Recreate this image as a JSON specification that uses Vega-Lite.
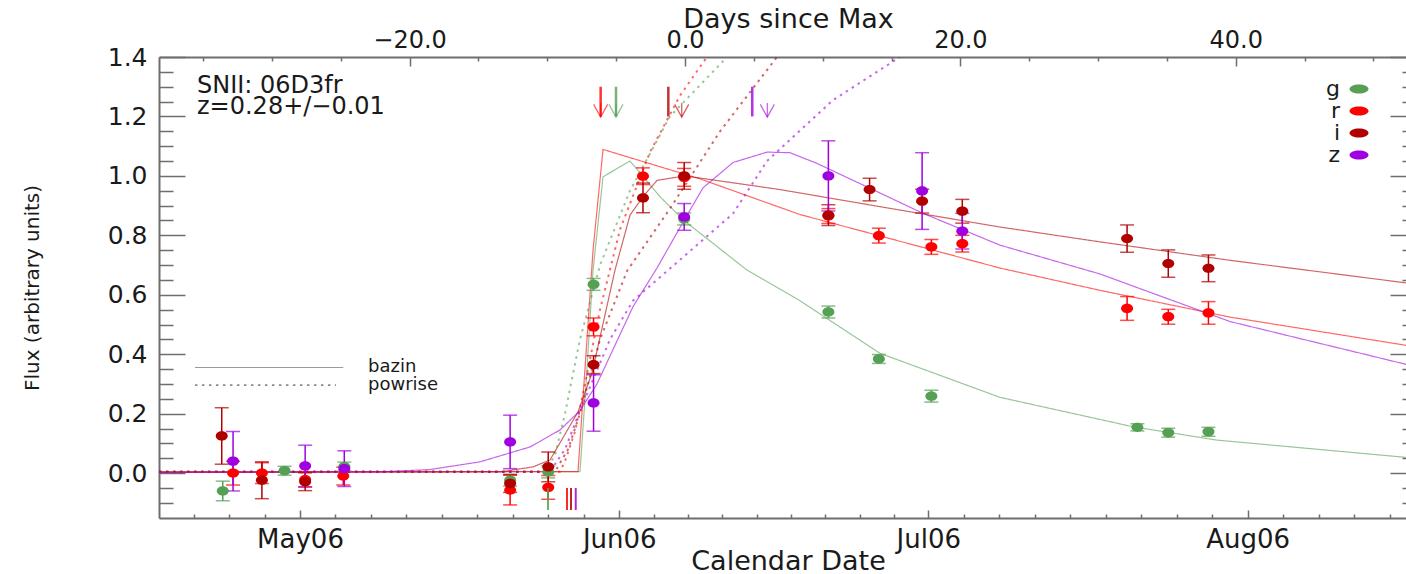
{
  "$schema": "https://vega.github.io/schema/vega-lite/v6.json",
  "width": 1247,
  "height": 461,
  "autosize": {"type": "none"},
  "padding": {"left": 159, "top": 57, "right": 0, "bottom": 56},
  "background": "white",
  "title": {
    "text": ["SNII: 06D3fr", "z=0.28+/\u22120.01"],
    "anchor": "start",
    "frame": "group",
    "orient": "top",
    "offset": 0,
    "dx": 38,
    "dy": 114,
    "font": "DejaVu Sans",
    "fontSize": 24,
    "fontWeight": "normal",
    "lineHeight": 21.5,
    "color": "#1a1a1a"
  },
  "datasets": {
    "obs": [
      {"band": "g", "mjd": 53848.5, "flux": -0.06, "err": 0.033},
      {"band": "g", "mjd": 53854.5, "flux": 0.008, "err": 0.015},
      {"band": "g", "mjd": 53860.3, "flux": 0.022, "err": 0.015},
      {"band": "g", "mjd": 53876.4, "flux": -0.024, "err": 0.02},
      {"band": "g", "mjd": 53880.1, "flux": 0.004, "err": 0.02},
      {"band": "g", "mjd": 53884.5, "flux": 0.635, "err": 0.02},
      {"band": "g", "mjd": 53893.3, "flux": 0.855, "err": 0.02},
      {"band": "g", "mjd": 53907.3, "flux": 0.542, "err": 0.02},
      {"band": "g", "mjd": 53912.2, "flux": 0.384, "err": 0.015},
      {"band": "g", "mjd": 53917.3, "flux": 0.259, "err": 0.02},
      {"band": "g", "mjd": 53937.3, "flux": 0.154, "err": 0.012},
      {"band": "g", "mjd": 53940.3, "flux": 0.136, "err": 0.015},
      {"band": "g", "mjd": 53944.2, "flux": 0.139, "err": 0.015},
      {"band": "r", "mjd": 53849.5, "flux": 0.0, "err": 0.04},
      {"band": "r", "mjd": 53852.3, "flux": 0.0, "err": 0.035},
      {"band": "r", "mjd": 53856.5, "flux": -0.022, "err": 0.025},
      {"band": "r", "mjd": 53860.2, "flux": -0.01, "err": 0.03},
      {"band": "r", "mjd": 53876.4, "flux": -0.057, "err": 0.05},
      {"band": "r", "mjd": 53880.1, "flux": -0.048, "err": 0.04},
      {"band": "r", "mjd": 53884.5, "flux": 0.492, "err": 0.03},
      {"band": "r", "mjd": 53889.3, "flux": 0.999, "err": 0.028},
      {"band": "r", "mjd": 53893.3, "flux": 0.995, "err": 0.03},
      {"band": "r", "mjd": 53907.3, "flux": 0.865, "err": 0.025},
      {"band": "r", "mjd": 53912.2, "flux": 0.799, "err": 0.025},
      {"band": "r", "mjd": 53917.3, "flux": 0.761, "err": 0.025},
      {"band": "r", "mjd": 53920.3, "flux": 0.772, "err": 0.028},
      {"band": "r", "mjd": 53936.3, "flux": 0.554, "err": 0.04},
      {"band": "r", "mjd": 53940.3, "flux": 0.526, "err": 0.025},
      {"band": "r", "mjd": 53944.2, "flux": 0.539, "err": 0.038},
      {"band": "i", "mjd": 53848.4, "flux": 0.125, "err": 0.095},
      {"band": "i", "mjd": 53852.3, "flux": -0.024, "err": 0.062},
      {"band": "i", "mjd": 53856.5, "flux": -0.029, "err": 0.03},
      {"band": "i", "mjd": 53876.4, "flux": -0.035, "err": 0.03},
      {"band": "i", "mjd": 53880.1, "flux": 0.021, "err": 0.05},
      {"band": "i", "mjd": 53884.5, "flux": 0.365, "err": 0.03},
      {"band": "i", "mjd": 53889.3, "flux": 0.926, "err": 0.05},
      {"band": "i", "mjd": 53893.3, "flux": 1.0, "err": 0.045},
      {"band": "i", "mjd": 53907.3, "flux": 0.868, "err": 0.035},
      {"band": "i", "mjd": 53911.3, "flux": 0.954, "err": 0.038},
      {"band": "i", "mjd": 53916.4, "flux": 0.915, "err": 0.04},
      {"band": "i", "mjd": 53920.3, "flux": 0.881, "err": 0.04},
      {"band": "i", "mjd": 53936.3, "flux": 0.789, "err": 0.046},
      {"band": "i", "mjd": 53940.3, "flux": 0.705, "err": 0.046},
      {"band": "i", "mjd": 53944.2, "flux": 0.689, "err": 0.045},
      {"band": "z", "mjd": 53849.5, "flux": 0.04, "err": 0.1},
      {"band": "z", "mjd": 53856.5, "flux": 0.024, "err": 0.07},
      {"band": "z", "mjd": 53860.3, "flux": 0.015, "err": 0.06},
      {"band": "z", "mjd": 53876.4, "flux": 0.105, "err": 0.09},
      {"band": "z", "mjd": 53884.5, "flux": 0.236, "err": 0.095},
      {"band": "z", "mjd": 53893.3, "flux": 0.862, "err": 0.045},
      {"band": "z", "mjd": 53907.3, "flux": 1.0, "err": 0.118},
      {"band": "z", "mjd": 53916.4, "flux": 0.949, "err": 0.129},
      {"band": "z", "mjd": 53920.3, "flux": 0.814, "err": 0.06}
    ],
    "fits": [
      {"band": "g", "model": "bazin", "mjd": 53842.31, "flux": 0.005},
      {"band": "g", "model": "bazin", "mjd": 53883.18, "flux": 0.005},
      {"band": "g", "model": "bazin", "mjd": 53883.77, "flux": 0.3},
      {"band": "g", "model": "bazin", "mjd": 53884.45, "flux": 0.683},
      {"band": "g", "model": "bazin", "mjd": 53885.42, "flux": 0.997},
      {"band": "g", "model": "bazin", "mjd": 53888.04, "flux": 1.05},
      {"band": "g", "model": "bazin", "mjd": 53890.95, "flux": 0.93},
      {"band": "g", "model": "bazin", "mjd": 53893.28, "flux": 0.85},
      {"band": "g", "model": "bazin", "mjd": 53899.4, "flux": 0.683},
      {"band": "g", "model": "bazin", "mjd": 53904.54, "flux": 0.58},
      {"band": "g", "model": "bazin", "mjd": 53912.31, "flux": 0.403},
      {"band": "g", "model": "bazin", "mjd": 53923.96, "flux": 0.255},
      {"band": "g", "model": "bazin", "mjd": 53936.87, "flux": 0.156},
      {"band": "g", "model": "bazin", "mjd": 53945.03, "flux": 0.111},
      {"band": "g", "model": "bazin", "mjd": 53963.38, "flux": 0.053},
      {"band": "r", "model": "bazin", "mjd": 53842.31, "flux": 0.005},
      {"band": "r", "model": "bazin", "mjd": 53882.99, "flux": 0.005},
      {"band": "r", "model": "bazin", "mjd": 53884.45, "flux": 0.75},
      {"band": "r", "model": "bazin", "mjd": 53885.42, "flux": 1.089},
      {"band": "r", "model": "bazin", "mjd": 53894.83, "flux": 0.99},
      {"band": "r", "model": "bazin", "mjd": 53904.54, "flux": 0.87},
      {"band": "r", "model": "bazin", "mjd": 53914.25, "flux": 0.78},
      {"band": "r", "model": "bazin", "mjd": 53923.96, "flux": 0.69},
      {"band": "r", "model": "bazin", "mjd": 53933.67, "flux": 0.615},
      {"band": "r", "model": "bazin", "mjd": 53946.29, "flux": 0.525},
      {"band": "r", "model": "bazin", "mjd": 53963.38, "flux": 0.43},
      {"band": "i", "model": "bazin", "mjd": 53842.31, "flux": 0.002},
      {"band": "i", "model": "bazin", "mjd": 53875.42, "flux": 0.004},
      {"band": "i", "model": "bazin", "mjd": 53878.62, "flux": 0.021},
      {"band": "i", "model": "bazin", "mjd": 53880.27, "flux": 0.044},
      {"band": "i", "model": "bazin", "mjd": 53882.99, "flux": 0.206},
      {"band": "i", "model": "bazin", "mjd": 53884.35, "flux": 0.336},
      {"band": "i", "model": "bazin", "mjd": 53886.58, "flux": 0.683},
      {"band": "i", "model": "bazin", "mjd": 53888.04, "flux": 0.868},
      {"band": "i", "model": "bazin", "mjd": 53889.3, "flux": 0.93},
      {"band": "i", "model": "bazin", "mjd": 53890.66, "flux": 0.985},
      {"band": "i", "model": "bazin", "mjd": 53893.38, "flux": 1.0},
      {"band": "i", "model": "bazin", "mjd": 53902.6, "flux": 0.954},
      {"band": "i", "model": "bazin", "mjd": 53914.25, "flux": 0.885},
      {"band": "i", "model": "bazin", "mjd": 53923.96, "flux": 0.828},
      {"band": "i", "model": "bazin", "mjd": 53933.67, "flux": 0.778},
      {"band": "i", "model": "bazin", "mjd": 53946.29, "flux": 0.716},
      {"band": "i", "model": "bazin", "mjd": 53963.38, "flux": 0.64},
      {"band": "z", "model": "bazin", "mjd": 53842.31, "flux": 0.002},
      {"band": "z", "model": "bazin", "mjd": 53863.77, "flux": 0.004},
      {"band": "z", "model": "bazin", "mjd": 53868.62, "flux": 0.012},
      {"band": "z", "model": "bazin", "mjd": 53873.48, "flux": 0.038},
      {"band": "z", "model": "bazin", "mjd": 53878.33, "flux": 0.088},
      {"band": "z", "model": "bazin", "mjd": 53881.24, "flux": 0.145},
      {"band": "z", "model": "bazin", "mjd": 53883.18, "flux": 0.21},
      {"band": "z", "model": "bazin", "mjd": 53884.83, "flux": 0.3},
      {"band": "z", "model": "bazin", "mjd": 53888.33, "flux": 0.56},
      {"band": "z", "model": "bazin", "mjd": 53890.66, "flux": 0.69},
      {"band": "z", "model": "bazin", "mjd": 53893.28, "flux": 0.85},
      {"band": "z", "model": "bazin", "mjd": 53895.13, "flux": 0.96},
      {"band": "z", "model": "bazin", "mjd": 53898.04, "flux": 1.045},
      {"band": "z", "model": "bazin", "mjd": 53901.34, "flux": 1.08},
      {"band": "z", "model": "bazin", "mjd": 53903.57, "flux": 1.078},
      {"band": "z", "model": "bazin", "mjd": 53906.19, "flux": 1.042},
      {"band": "z", "model": "bazin", "mjd": 53911.05, "flux": 0.963},
      {"band": "z", "model": "bazin", "mjd": 53916.49, "flux": 0.874},
      {"band": "z", "model": "bazin", "mjd": 53923.96, "flux": 0.767},
      {"band": "z", "model": "bazin", "mjd": 53933.67, "flux": 0.67},
      {"band": "z", "model": "bazin", "mjd": 53946.29, "flux": 0.51},
      {"band": "z", "model": "bazin", "mjd": 53963.38, "flux": 0.366},
      {"band": "g", "model": "powrise", "mjd": 53842.31, "flux": 0.005},
      {"band": "g", "model": "powrise", "mjd": 53879.79, "flux": 0.005},
      {"band": "g", "model": "powrise", "mjd": 53880.76, "flux": 0.06},
      {"band": "g", "model": "powrise", "mjd": 53881.73, "flux": 0.2},
      {"band": "g", "model": "powrise", "mjd": 53883.18, "flux": 0.45},
      {"band": "g", "model": "powrise", "mjd": 53885.13, "flux": 0.7},
      {"band": "g", "model": "powrise", "mjd": 53888.04, "flux": 0.95},
      {"band": "g", "model": "powrise", "mjd": 53891.92, "flux": 1.2},
      {"band": "g", "model": "powrise", "mjd": 53897.46, "flux": 1.4},
      {"band": "r", "model": "powrise", "mjd": 53842.31, "flux": 0.005},
      {"band": "r", "model": "powrise", "mjd": 53881.24, "flux": 0.005},
      {"band": "r", "model": "powrise", "mjd": 53881.73, "flux": 0.04},
      {"band": "r", "model": "powrise", "mjd": 53882.7, "flux": 0.14},
      {"band": "r", "model": "powrise", "mjd": 53883.67, "flux": 0.3},
      {"band": "r", "model": "powrise", "mjd": 53885.13, "flux": 0.55},
      {"band": "r", "model": "powrise", "mjd": 53887.07, "flux": 0.82},
      {"band": "r", "model": "powrise", "mjd": 53889.98, "flux": 1.08},
      {"band": "r", "model": "powrise", "mjd": 53892.89, "flux": 1.27},
      {"band": "r", "model": "powrise", "mjd": 53895.51, "flux": 1.4},
      {"band": "i", "model": "powrise", "mjd": 53842.31, "flux": 0.005},
      {"band": "i", "model": "powrise", "mjd": 53880.76, "flux": 0.005},
      {"band": "i", "model": "powrise", "mjd": 53882.02, "flux": 0.08},
      {"band": "i", "model": "powrise", "mjd": 53883.18, "flux": 0.2},
      {"band": "i", "model": "powrise", "mjd": 53885.13, "flux": 0.45},
      {"band": "i", "model": "powrise", "mjd": 53887.75, "flux": 0.68},
      {"band": "i", "model": "powrise", "mjd": 53891.92, "flux": 0.89},
      {"band": "i", "model": "powrise", "mjd": 53896.78, "flux": 1.15},
      {"band": "i", "model": "powrise", "mjd": 53902.31, "flux": 1.4},
      {"band": "z", "model": "powrise", "mjd": 53842.31, "flux": 0.005},
      {"band": "z", "model": "powrise", "mjd": 53880.27, "flux": 0.005},
      {"band": "z", "model": "powrise", "mjd": 53881.73, "flux": 0.08},
      {"band": "z", "model": "powrise", "mjd": 53883.18, "flux": 0.21},
      {"band": "z", "model": "powrise", "mjd": 53886.1, "flux": 0.45},
      {"band": "z", "model": "powrise", "mjd": 53888.33, "flux": 0.58},
      {"band": "z", "model": "powrise", "mjd": 53898.04, "flux": 0.873},
      {"band": "z", "model": "powrise", "mjd": 53901.34, "flux": 1.05},
      {"band": "z", "model": "powrise", "mjd": 53907.75, "flux": 1.255},
      {"band": "z", "model": "powrise", "mjd": 53914.25, "flux": 1.4}
    ],
    "peaks": [
      {"band": "r", "marker": "bar", "mjd": 53885.19},
      {"band": "r", "marker": "arrow", "mjd": 53885.19},
      {"band": "g", "marker": "bar", "mjd": 53886.68},
      {"band": "g", "marker": "arrow", "mjd": 53886.68},
      {"band": "i", "marker": "bar", "mjd": 53891.76},
      {"band": "i", "marker": "arrow", "mjd": 53893.06},
      {"band": "z", "marker": "bar", "mjd": 53899.91},
      {"band": "z", "marker": "arrow", "mjd": 53901.37}
    ],
    "onsets": [
      {"band": "g", "mjd": 53880.08},
      {"band": "r", "mjd": 53881.92},
      {"band": "i", "mjd": 53882.31},
      {"band": "z", "mjd": 53882.77}
    ],
    "models": [
      {"model": "bazin"},
      {"model": "powrise"}
    ]
  },
  "layer": [
    {
      "data": {"name": "fits"},
      "mark": {"type": "line", "clip": true, "strokeOpacity": 0.6},
      "encoding": {
        "x": {
          "field": "mjd",
          "type": "quantitative",
          "scale": {"domain": [53842.31, 53963.38], "nice": false, "zero": false},
          "axis": {
            "orient": "bottom",
            "values": [53845.67, 53849.11, 53852.56, 53856, 53859.44, 53862.89, 53866.33, 53869.78, 53873.22, 53876.67, 53880.11, 53883.56, 53887, 53890.33, 53893.67, 53897, 53900.33, 53903.67, 53907, 53910.33, 53913.67, 53917, 53920.44, 53923.89, 53927.33, 53930.78, 53934.22, 53937.67, 53941.11, 53944.56, 53948, 53951.44, 53954.89, 53958.33, 53961.78],
            "labelExpr": "datum.value == 53856 ? 'May06' : datum.value == 53887 ? 'Jun06' : datum.value == 53917 ? 'Jul06' : datum.value == 53948 ? 'Aug06' : ''",
            "tickSize": {"condition": {"test": "indexof([53856, 53887, 53917, 53948], datum.value) >= 0", "value": -8}, "value": -4},
            "labelFontSize": 26,
            "labelBaseline": "alphabetic",
            "labelPadding": 37,
            "labelOverlap": false,
            "labelFlush": false,
            "labelBound": false,
            "title": "Calendar Date",
            "titleFontSize": 27,
            "titleBaseline": "alphabetic",
            "titleX": 629,
            "titleY": 51
          }
        },
        "y": {
          "field": "flux",
          "type": "quantitative",
          "scale": {"domain": [-0.151, 1.4], "nice": false, "zero": false},
          "axis": {
            "orient": "left",
            "values": [-0.1, -0.05, 0, 0.05, 0.1, 0.15, 0.2, 0.25, 0.3, 0.35, 0.4, 0.45, 0.5, 0.55, 0.6, 0.65, 0.7, 0.75, 0.8, 0.85, 0.9, 0.95, 1, 1.05, 1.1, 1.15, 1.2, 1.25, 1.3, 1.35, 1.4],
            "labelExpr": "indexof([0, 0.2, 0.4, 0.6, 0.8, 1, 1.2, 1.4], datum.value) >= 0 ? format(datum.value, '.1f') : ''",
            "tickSize": {"condition": {"test": "indexof([0, 0.2, 0.4, 0.6, 0.8, 1, 1.2, 1.4], datum.value) >= 0", "value": -26}, "value": -14},
            "labelFontSize": 25,
            "labelPadding": 38,
            "labelOverlap": false,
            "labelBound": false,
            "labelFlush": false,
            "title": "Flux (arbitrary units)",
            "titleFontSize": 20,
            "titleX": -127,
            "titleBaseline": "middle"
          }
        },
        "color": {
          "field": "band",
          "type": "nominal",
          "scale": {"domain": ["g", "r", "i", "z"], "range": ["#55a055", "#ff0000", "#b00000", "#a000e0"]},
          "legend": {
            "orient": "none",
            "legendX": 1189,
            "legendY": 21,
            "title": null,
            "symbolType": "M-1,0A1,0.48,0,1,0,1,0A1,0.48,0,1,0,-1,0Z",
            "symbolSize": 361,
            "symbolStrokeWidth": 0,
            "symbolOpacity": 1,
            "symbolDash": [1, 0],
            "labelAlign": "right",
            "labelOffset": -30,
            "labelFontSize": 22,
            "rowPadding": -2,
            "padding": 0,
            "encode": {
              "symbols": {
                "update": {
                  "opacity": {"value": 1},
                  "fillOpacity": {"value": 1},
                  "strokeOpacity": {"value": 0}
                }
              }
            }
          }
        },
        "strokeDash": {
          "field": "model",
          "type": "nominal",
          "scale": {"domain": ["bazin", "powrise"], "range": [[1, 0], [2.5, 4.5]]},
          "legend": null
        },
        "strokeWidth": {
          "field": "model",
          "type": "nominal",
          "scale": {"domain": ["bazin", "powrise"], "range": [1.2, 2]},
          "legend": null
        },
        "detail": {"field": "band"}
      }
    },
    {
      "data": {"name": "obs"},
      "mark": {"type": "errorbar", "ticks": {"size": 14}, "thickness": 1.5},
      "encoding": {
        "x": {"field": "mjd", "type": "quantitative", "axis": null},
        "y": {"field": "flux", "type": "quantitative", "axis": null},
        "yError": {"field": "err"},
        "color": {"field": "band", "type": "nominal"}
      }
    },
    {
      "data": {"name": "obs"},
      "mark": {"type": "point", "filled": true, "opacity": 1, "size": 144, "shape": "M-1,0A1,0.78,0,1,0,1,0A1,0.78,0,1,0,-1,0Z"},
      "encoding": {
        "x": {"field": "mjd", "type": "quantitative", "axis": null},
        "y": {"field": "flux", "type": "quantitative", "axis": null},
        "color": {"field": "band", "type": "nominal"}
      }
    },
    {
      "data": {"name": "peaks"},
      "transform": [{"filter": "datum.marker == 'bar'"}],
      "mark": {"type": "rule", "strokeWidth": 2.5, "opacity": 0.8},
      "encoding": {
        "x": {"field": "mjd", "type": "quantitative", "axis": null},
        "y": {"datum": 1.3, "type": "quantitative", "axis": null},
        "y2": {"datum": 1.2},
        "color": {"field": "band", "type": "nominal"}
      }
    },
    {
      "data": {"name": "peaks"},
      "transform": [{"filter": "datum.marker == 'arrow'"}],
      "mark": {"type": "rule", "strokeWidth": 1.3, "opacity": 0.6},
      "encoding": {
        "x": {"field": "mjd", "type": "quantitative", "axis": null},
        "y": {"datum": 1.245, "type": "quantitative", "axis": null},
        "y2": {"datum": 1.198},
        "color": {"field": "band", "type": "nominal"}
      }
    },
    {
      "data": {"name": "peaks"},
      "transform": [{"filter": "datum.marker == 'arrow'"}],
      "mark": {"type": "point", "filled": false, "strokeWidth": 1.3, "opacity": 0.6, "size": 196, "shape": "M-1,-1.8L0,0L1,-1.8"},
      "encoding": {
        "x": {"field": "mjd", "type": "quantitative", "axis": null},
        "y": {"datum": 1.198, "type": "quantitative", "axis": null},
        "color": {"field": "band", "type": "nominal"}
      }
    },
    {
      "data": {"name": "onsets"},
      "mark": {"type": "rule", "strokeWidth": 2, "opacity": 0.85},
      "encoding": {
        "x": {"field": "mjd", "type": "quantitative", "axis": null},
        "y": {"datum": -0.05, "type": "quantitative", "axis": null},
        "y2": {"datum": -0.124},
        "color": {"field": "band", "type": "nominal"}
      }
    },
    {
      "data": {"name": "models"},
      "transform": [{"filter": "datum.model == 'bazin'"}],
      "mark": {"type": "rule", "strokeWidth": 1.2, "color": "#9a9a9a"},
      "encoding": {
        "x": {"datum": 53845.8, "type": "quantitative", "axis": null},
        "x2": {"datum": 53860.2},
        "y": {"datum": 0.3554, "type": "quantitative", "axis": null},
        "strokeDash": {"field": "model", "type": "nominal"}
      }
    },
    {
      "data": {"name": "models"},
      "transform": [{"filter": "datum.model == 'powrise'"}],
      "mark": {"type": "rule", "strokeWidth": 1.6, "color": "#8a8a8a"},
      "encoding": {
        "x": {"datum": 53845.8, "type": "quantitative", "axis": null},
        "x2": {"datum": 53859.5},
        "y": {"datum": 0.296, "type": "quantitative", "axis": null},
        "strokeDash": {"field": "model", "type": "nominal"}
      }
    },
    {
      "data": {"name": "models"},
      "transform": [{"filter": "datum.model == 'bazin'"}],
      "mark": {"type": "text", "align": "left", "baseline": "middle", "fontSize": 18, "font": "DejaVu Sans", "color": "#1a1a1a"},
      "encoding": {
        "x": {"datum": 53862.6, "type": "quantitative", "axis": null},
        "y": {"datum": 0.3554, "type": "quantitative", "axis": null},
        "text": {"field": "model", "type": "nominal"}
      }
    },
    {
      "data": {"name": "models"},
      "transform": [{"filter": "datum.model == 'powrise'"}],
      "mark": {"type": "text", "align": "left", "baseline": "middle", "fontSize": 18, "font": "DejaVu Sans", "color": "#1a1a1a"},
      "encoding": {
        "x": {"datum": 53862.6, "type": "quantitative", "axis": null},
        "y": {"datum": 0.296, "type": "quantitative", "axis": null},
        "text": {"field": "model", "type": "nominal"}
      }
    },
    {
      "data": {"name": "obs"},
      "mark": {"type": "point", "opacity": 0},
      "encoding": {
        "x": {
          "field": "mjd",
          "type": "quantitative",
          "axis": {
            "orient": "top",
            "values": [53846.587, 53853.272, 53859.956, 53866.641, 53873.325, 53880.01, 53886.694, 53893.379, 53900.064, 53906.748, 53913.433, 53920.117, 53926.802, 53933.486, 53940.171, 53946.855, 53953.54, 53960.224],
            "labelExpr": "datum.value == 53866.641 ? '\u221220.0' : datum.value == 53893.379 ? '0.0' : datum.value == 53920.117 ? '20.0' : datum.value == 53946.855 ? '40.0' : ''",
            "tickSize": {"condition": {"test": "indexof([53866.641, 53893.379, 53920.117, 53946.855], datum.value) >= 0", "value": -9}, "value": -4},
            "labelFontSize": 24,
            "labelBaseline": "alphabetic",
            "labelPadding": 19,
            "labelOverlap": false,
            "labelFlush": false,
            "labelBound": false,
            "title": "Days since Max",
            "titleFontSize": 27,
            "titleBaseline": "alphabetic",
            "titleX": 629,
            "titleY": -30
          }
        },
        "y": {
          "field": "flux",
          "type": "quantitative",
          "axis": {
            "orient": "right",
            "values": [-0.1, -0.05, 0, 0.05, 0.1, 0.15, 0.2, 0.25, 0.3, 0.35, 0.4, 0.45, 0.5, 0.55, 0.6, 0.65, 0.7, 0.75, 0.8, 0.85, 0.9, 0.95, 1, 1.05, 1.1, 1.15, 1.2, 1.25, 1.3, 1.35, 1.4],
            "labels": false,
            "domain": false,
            "title": null,
            "tickSize": {"condition": {"test": "indexof([0, 0.2, 0.4, 0.6, 0.8, 1, 1.2, 1.4], datum.value) >= 0", "value": -16}, "value": -4}
          }
        }
      }
    }
  ],
  "resolve": {"axis": {"x": "independent", "y": "independent"}},
  "config": {
    "view": {"stroke": null},
    "font": "DejaVu Sans",
    "mark": {"invalid": null},
    "axis": {
      "domainColor": "#6e6e6e",
      "domainWidth": 2,
      "tickColor": "#6e6e6e",
      "tickWidth": 1.5,
      "labelColor": "#1a1a1a",
      "titleColor": "#1a1a1a",
      "labelFont": "DejaVu Sans",
      "titleFont": "DejaVu Sans",
      "titleFontWeight": "normal",
      "grid": false
    },
    "legend": {"labelFont": "DejaVu Sans", "labelColor": "#1a1a1a"}
  }
}
